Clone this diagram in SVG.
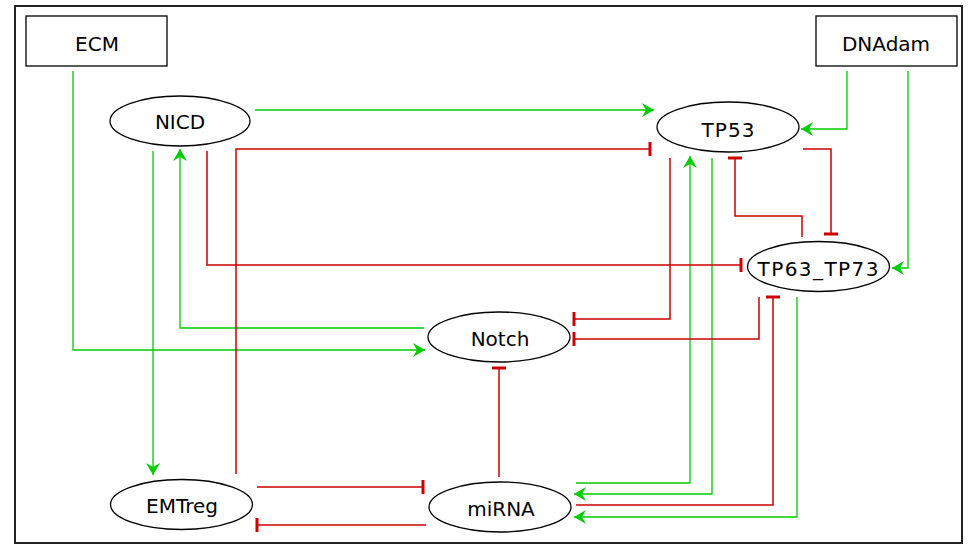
<svg xmlns="http://www.w3.org/2000/svg" width="971" height="545" viewBox="0 0 971 545">
<style>
.node{fill:#fff;stroke:#000;stroke-width:1.3}
.lbl{font-family:"DejaVu Sans","Liberation Sans",sans-serif;font-size:20px;fill:#000;text-anchor:middle}
.act{fill:none;stroke:#00cc00;stroke-width:1.3;marker-end:url(#arr)}
.act0{fill:none;stroke:#00cc00;stroke-width:1.3}
.inh{fill:none;stroke:#cc0000;stroke-width:1.5;marker-end:url(#bar)}
</style>
<defs>
<marker id="arr" markerUnits="userSpaceOnUse" viewBox="0 0 12 14" markerWidth="12" markerHeight="14" refX="12" refY="7" orient="auto">
<path d="M0,0 L12,7 L0,14 L4,7 z" fill="#00cc00"/>
</marker>
<marker id="bar" markerUnits="userSpaceOnUse" viewBox="0 0 4 16" markerWidth="4" markerHeight="16" refX="2" refY="8" orient="auto">
<rect x="0.5" y="1" width="3" height="14" fill="#cc0000"/>
</marker>
</defs>
<rect x="0" y="0" width="971" height="545" fill="#fff"/>
<rect x="15" y="6" width="947" height="537" fill="none" stroke="#222" stroke-width="2"/>
<g id="connectors">
<path class="act" d="M73,71 V350 H425"/>
<path class="act" d="M424,328 H180 V149"/>
<path class="act" d="M153,151 V475"/>
<path class="act" d="M255,110 H654"/>
<path class="act" d="M847,71 V129 H801"/>
<path class="act" d="M908,71 V268 H892"/>
<path class="act" d="M576,483 H690 V156"/>
<path class="act" d="M712,158 V494 H574"/>
<path class="act" d="M797,297 V517 H574"/>
<path class="inh" d="M207,151 V265 H741"/>
<path class="inh" d="M236,474 V149 H650"/>
<path class="inh" d="M803,149 H831 V234"/>
<path class="inh" d="M802,237 V216 H735 V158"/>
<path class="inh" d="M670,158 V319 H574"/>
<path class="inh" d="M759,297 V339 H574"/>
<path class="inh" d="M576,505 H773 V297"/>
<path class="inh" d="M499,477 V368"/>
<path class="inh" d="M257,487 H423"/>
<path class="inh" d="M426,525 H257"/>
</g>
<g id="ECM"><rect class="node" x="26" y="16" width="141" height="50"/><text class="lbl" x="97" y="51">ECM</text></g>
<g id="DNAdam"><rect class="node" x="816" y="16" width="141" height="50"/><text class="lbl" x="886" y="51">DNAdam</text></g>
<g id="NICD"><ellipse class="node" cx="180" cy="121" rx="70" ry="25"/><text class="lbl" x="180" y="129">NICD</text></g>
<g id="TP53"><ellipse class="node" cx="728" cy="127" rx="71" ry="25"/><text class="lbl" x="728" y="137" textLength="53" lengthAdjust="spacing">TP53</text></g>
<g id="TP63_TP73"><ellipse class="node" cx="818.5" cy="266.5" rx="71" ry="25"/><text class="lbl" x="818" y="276" textLength="121" lengthAdjust="spacing">TP63_TP73</text></g>
<g id="Notch"><ellipse class="node" cx="499" cy="337" rx="71" ry="25"/><text class="lbl" x="500" y="346">Notch</text></g>
<g id="EMTreg"><ellipse class="node" cx="181.5" cy="504.5" rx="71" ry="25"/><text class="lbl" x="182" y="513">EMTreg</text></g>
<g id="miRNA"><ellipse class="node" cx="500" cy="507" rx="71" ry="25"/><text class="lbl" x="501" y="516">miRNA</text></g>
</svg>
